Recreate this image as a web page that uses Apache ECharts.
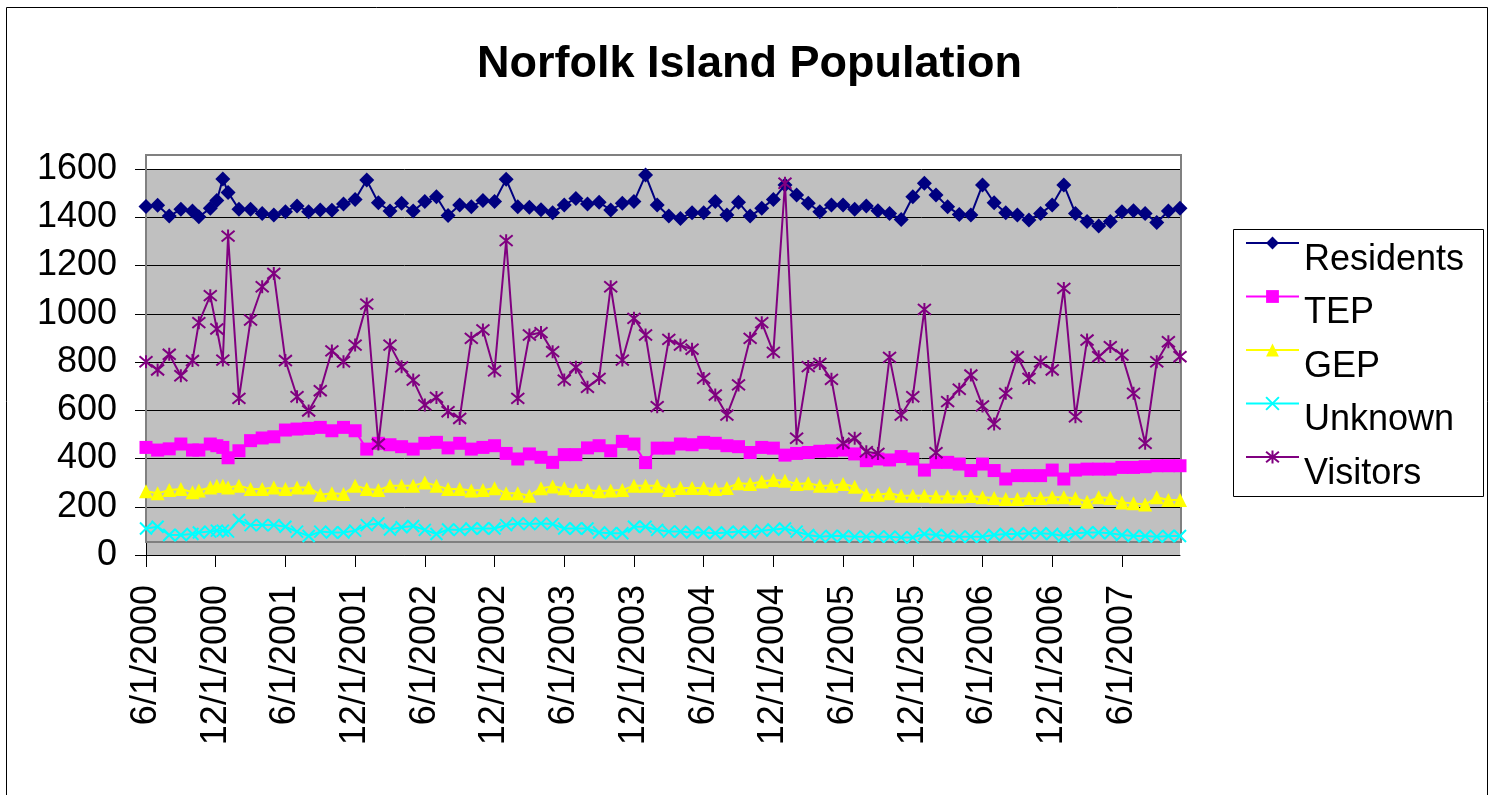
<!DOCTYPE html>
<html><head><meta charset="utf-8">
<script src="https://cdn.jsdelivr.net/npm/echarts@6/dist/echarts.min.js"></script>
<style>html,body{margin:0;padding:0;background:#fff}#c{width:1491px;height:795px}</style>
</head><body><div id="c"></div>
<script>
const dates = [
'2000-06-01','2000-07-01','2000-08-01','2000-09-01','2000-10-01','2000-10-18','2000-11-17','2000-12-04','2000-12-20','2001-01-03',
'2001-02-01','2001-03-01','2001-04-01','2001-05-01','2001-06-01','2001-07-01','2001-08-01','2001-09-01','2001-10-01','2001-11-01','2001-12-01',
'2002-01-01','2002-02-01','2002-03-01','2002-04-01','2002-05-01','2002-06-01','2002-07-01','2002-08-01','2002-09-01','2002-10-01','2002-11-01','2002-12-01',
'2003-01-01','2003-02-01','2003-03-01','2003-04-01','2003-05-01','2003-06-01','2003-07-01','2003-08-01','2003-09-01','2003-10-01','2003-11-01','2003-12-01',
'2004-01-01','2004-02-01','2004-03-01','2004-04-01','2004-05-01','2004-06-01','2004-07-01','2004-08-01','2004-09-01','2004-10-01','2004-11-01','2004-12-01',
'2005-01-01','2005-02-01','2005-03-01','2005-04-01','2005-05-01','2005-06-01','2005-07-01','2005-08-01','2005-09-01','2005-10-01','2005-11-01','2005-12-01',
'2006-01-01','2006-02-01','2006-03-01','2006-04-01','2006-05-01','2006-06-01','2006-07-01','2006-08-01','2006-09-01','2006-10-01','2006-11-01','2006-12-01',
'2007-01-01','2007-02-01','2007-03-01','2007-04-01','2007-05-01','2007-06-01','2007-07-01','2007-08-01','2007-09-01','2007-10-01','2007-11-01'
];
const residents = [1445,1450,1405,1433,1426,1402,1437,1469,1559,1503,
1433,1433,1416,1409,1423,1447,1423,1430,1429,1455,1474,
1554,1460,1426,1458,1426,1465,1485,1407,1451,1444,1469,1465,
1557,1444,1441,1431,1419,1451,1478,1455,1462,1430,1458,1465,
1575,1451,1405,1395,1419,1419,1465,1409,1462,1405,1437,1474,
1534,1492,1458,1423,1451,1451,1433,1447,1427,1416,1391,1485,
1541,1492,1444,1411,1409,1534,1460,1419,1409,1389,1416,1451,
1534,1416,1382,1364,1382,1423,1427,1416,1378,1426,1437];
const tep = [446,435,440,460,435,435,460,453,446,403,
432,474,485,490,518,522,525,529,515,529,515,
439,463,457,449,439,463,467,444,463,439,446,453,
421,398,419,405,384,416,416,444,453,432,471,460,
383,443,443,460,457,467,463,453,449,425,446,443,
414,421,425,430,432,435,419,391,398,394,408,398,
352,384,384,377,350,377,350,315,329,329,329,352,
315,352,356,356,356,363,363,366,370,370,370];
const gep = [264,256,269,274,260,267,280,287,287,280,
287,274,274,280,274,280,280,250,256,253,287,
274,269,287,287,287,301,287,274,274,267,269,277,
256,256,246,277,284,277,269,269,264,267,269,287,
287,287,269,278,278,278,274,278,297,294,305,311,
308,294,297,287,287,294,283,250,250,256,246,246,
246,242,242,242,245,239,236,232,232,236,236,239,
239,235,221,239,236,218,214,209,239,228,228];
const unknown = [110,117,83,83,87,93,97,101,101,97,
145,124,124,124,117,97,79,97,93,93,101,
124,131,106,115,120,104,87,106,104,110,110,110,
124,131,128,131,128,110,110,110,93,90,90,117,
117,104,97,97,93,93,90,93,97,93,101,106,
110,97,83,76,79,79,76,76,76,76,73,73,
87,83,79,76,76,76,83,87,87,90,90,87,
79,90,93,93,90,83,79,79,76,79,79];
const visitors = [801,767,832,743,806,963,1075,937,808,1322,
649,974,1112,1167,806,656,597,681,846,801,870,
1040,460,870,780,725,622,653,594,566,898,933,763,
1303,649,912,922,843,725,778,695,732,1112,808,981,
912,615,894,870,853,732,663,580,705,898,963,840,
1541,484,781,794,728,463,484,428,421,819,580,656,
1018,424,636,687,746,618,543,670,822,732,801,767,
1105,573,891,822,864,829,670,463,801,884,822];
const tickLabels = ['6/1/2000','12/1/2000','6/1/2001','12/1/2001','6/1/2002','12/1/2002','6/1/2003','12/1/2003',
'6/1/2004','12/1/2004','6/1/2005','12/1/2005','6/1/2006','12/1/2006','6/1/2007'];
const seriesNames = ['Residents','TEP','GEP','Unknown','Visitors'];

function monthPos(y, m, d) {
  const dim = new Date(y, m, 0).getDate();
  return (y - 2000) * 12 + (m - 6) + (d - 1) / dim;
}
function fromIso(s) { const p = s.split('-').map(Number); return monthPos(p[0], p[1], p[2]); }
function fromUs(s) { const p = s.split('/').map(Number); return monthPos(p[2], p[0], p[1]); }
const xs = dates.map(fromIso);
const tickPos = tickLabels.map(fromUs);
const labelMap = {};
tickPos.forEach((v, i) => { labelMap[v.toFixed(4)] = tickLabels[i]; });
const xEnd = monthPos(2007, 11, 1);

const FONT = 'Liberation Sans, Arial, Helvetica, sans-serif';
const mk = vals => vals.map((v, i) => [xs[i], v]);
const XPATH = 'path://M0,0L10,10M0,10L10,0';
const STAR = 'path://M0,0L10,10M0,10L10,0M5,-1L5,11';

const styles = [
  {color: '#000080', symbol: 'diamond', size: 15},
  {color: '#FF00FF', symbol: 'rect', size: 13},
  {color: '#FFFF00', symbol: 'triangle', size: 14},
  {color: '#00FFFF', symbol: XPATH, size: 12, stroke: true},
  {color: '#800080', symbol: STAR, size: 13, stroke: true}
];
const dataSets = [residents, tep, gep, unknown, visitors];

const series = dataSets.map((d, i) => {
  const s = styles[i];
  return {
    name: seriesNames[i],
    type: 'line',
    data: mk(d),
    symbol: s.symbol,
    symbolSize: s.size,
    showAllSymbol: true,
    lineStyle: {color: s.color, width: 2},
    itemStyle: s.stroke ? {color: s.color, borderColor: s.color, borderWidth: 2}
                        : {color: s.color, borderColor: s.color, borderWidth: 0},
    emphasis: {disabled: true},
    z: 3 + i
  };
});

const chart = echarts.init(document.getElementById('c'), null, {renderer: 'canvas'});
chart.setOption({
  animation: false,
  backgroundColor: '#fff',
  title: {
    text: 'Norfolk Island Population',
    left: 477, top: 42, padding: 0,
    textStyle: {fontFamily: FONT, fontSize: 45, fontWeight: 'bold', color: '#000', lineHeight: 45}
  },
  grid: {left: 146, right: 1491 - 1180, top: 169, bottom: 795 - 555, show: true,
         backgroundColor: '#C0C0C0', borderWidth: 0, containLabel: false},
  legend: {
    orient: 'vertical', left: 1245, top: 208, padding: 0,
    itemWidth: 53, itemHeight: 16, itemGap: -16.5,
    data: seriesNames,
    formatter: '{t|{name}}',
    textStyle: {
      fontFamily: FONT, fontSize: 36, color: '#000',
      rich: {t: {fontFamily: FONT, fontSize: 36, color: '#000', lineHeight: 40, padding: [34, 0, 0, 0]}}
    }
  },
  xAxis: {
    type: 'value', min: 0, max: xEnd,
    axisLine: {show: true, lineStyle: {color: '#000', width: 1}},
    axisTick: {show: true, length: 12, lineStyle: {color: '#000'}, customValues: tickPos},
    axisLabel: {
      customValues: tickPos, rotate: 90, margin: 30,
      fontFamily: FONT, fontSize: 36, color: '#000',
      formatter: v => labelMap[Number(v).toFixed(4)] || ''
    },
    splitLine: {show: false}
  },
  yAxis: {
    type: 'value', min: 0, max: 1600, interval: 200,
    axisLine: {show: true, lineStyle: {color: '#000', width: 1}},
    axisTick: {show: true, length: 11, lineStyle: {color: '#000'}},
    axisLabel: {fontFamily: FONT, fontSize: 36, color: '#000', margin: 29, formatter: v => String(v)},
    splitLine: {show: true, lineStyle: {color: '#000', width: 1}}
  },
  graphic: [
    {type: 'rect', shape: {x: 6.5, y: 7.5, width: 1481, height: 800}, style: {fill: 'none', stroke: '#000', lineWidth: 1}, z: 0, silent: true},
    {type: 'rect', shape: {x: 146, y: 155, width: 1035, height: 387}, style: {fill: 'none', stroke: '#808080', lineWidth: 2}, z: 1, silent: true},
    {type: 'rect', shape: {x: 1233.5, y: 229.5, width: 250, height: 267}, style: {fill: 'none', stroke: '#000', lineWidth: 1}, z: 0, silent: true}
  ],
  series: series
});
</script>
</body></html>
